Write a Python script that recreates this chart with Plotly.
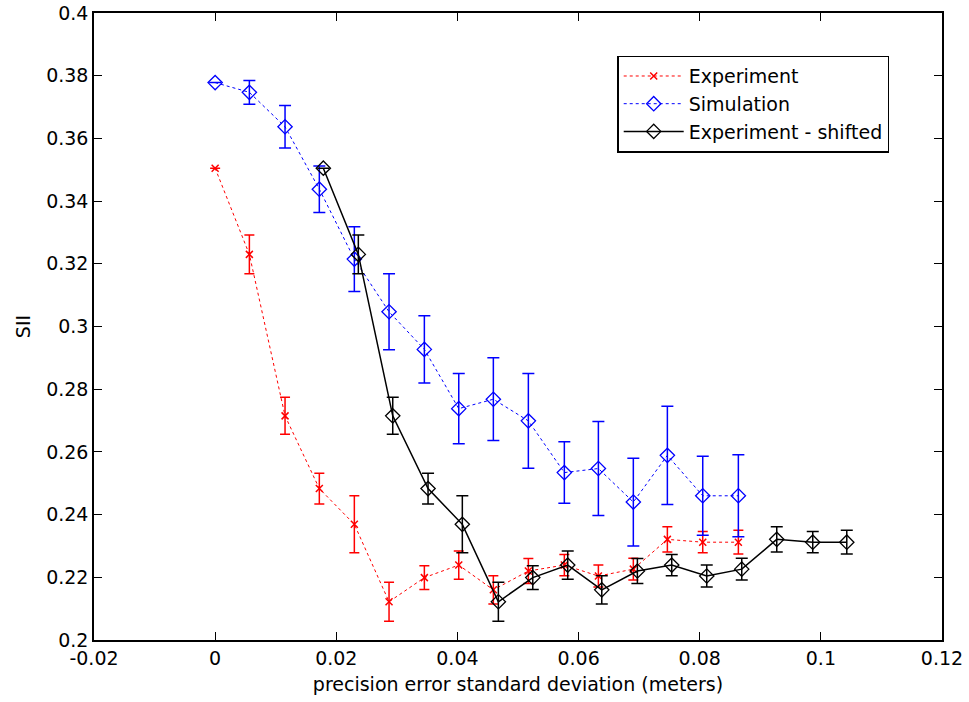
import plotly.graph_objects as go

# Experiment
exp_x = [0.0, 0.00565, 0.01154, 0.0172, 0.02298, 0.02871, 0.03454, 0.04022,
         0.04593, 0.05171, 0.05765, 0.06327, 0.06904, 0.07466, 0.0805, 0.08638]
exp_y = [0.3505, 0.3230, 0.2715, 0.2483, 0.2369, 0.2122, 0.2199, 0.2239,
         0.2160, 0.2220, 0.2239, 0.2204, 0.2226, 0.2321, 0.2312, 0.2312]
exp_err = [0.0, 0.0062, 0.0059, 0.0049, 0.0091, 0.0062, 0.0038, 0.0045,
           0.0045, 0.0040, 0.0034, 0.0035, 0.0035, 0.0040, 0.0034, 0.0038]

# Simulation
sim_x = exp_x
sim_y = [0.3778, 0.3747, 0.3637, 0.3438, 0.3215, 0.3047, 0.2927, 0.2738,
         0.2768, 0.2699, 0.2534, 0.2547, 0.2440, 0.2589, 0.2460, 0.2460]
sim_err = [0.0, 0.0038, 0.0068, 0.0074, 0.0103, 0.0121, 0.0107, 0.0112,
           0.0132, 0.0151, 0.0098, 0.0150, 0.0140, 0.0157, 0.0126, 0.0131]

# Experiment - shifted
shf_x = [0.01786, 0.02364, 0.02932, 0.03515, 0.04081, 0.04676, 0.05244, 0.05821,
         0.06383, 0.06971, 0.07538, 0.08116, 0.08694, 0.09272, 0.09866, 0.10428]
shf_y = exp_y
shf_err = exp_err

x_ticks = [-0.02, 0, 0.02, 0.04, 0.06, 0.08, 0.1, 0.12]
x_tick_labels = ["-0.02", "0", "0.02", "0.04", "0.06", "0.08", "0.1", "0.12"]
y_ticks = [0.2, 0.22, 0.24, 0.26, 0.28, 0.3, 0.32, 0.34, 0.36, 0.38, 0.4]
y_tick_labels = ["0.2", "0.22", "0.24", "0.26", "0.28", "0.3", "0.32", "0.34", "0.36", "0.38", "0.4"]

FONT = "DejaVu Sans, Liberation Sans, Arial, sans-serif"
FS = 19

fig = go.Figure()
fig.add_trace(go.Scatter(
    x=exp_x, y=exp_y, name="Experiment", mode="lines+markers",
    line=dict(color="#ff0000", width=1, dash="dot"),
    marker=dict(symbol="x-thin-open", size=7, color="#ff0000", line=dict(color="#ff0000", width=1.5)),
    error_y=dict(type="data", array=exp_err, visible=True, color="#ff0000", thickness=1.5, width=5),
))
fig.add_trace(go.Scatter(
    x=sim_x, y=sim_y, name="Simulation", mode="lines+markers",
    line=dict(color="#0000ff", width=1, dash="dot"),
    marker=dict(symbol="diamond-open", size=11, color="#0000ff", line=dict(color="#0000ff", width=1.3)),
    error_y=dict(type="data", array=sim_err, visible=True, color="#0000ff", thickness=1.5, width=6),
))
fig.add_trace(go.Scatter(
    x=shf_x, y=shf_y, name="Experiment - shifted", mode="lines+markers",
    line=dict(color="#000000", width=1.5),
    marker=dict(symbol="diamond-open", size=11, color="#000000", line=dict(color="#000000", width=1.3)),
    error_y=dict(type="data", array=shf_err, visible=True, color="#000000", thickness=1.5, width=6),
))

axis_common = dict(
    showgrid=False, zeroline=False, showline=True, linecolor="black", linewidth=1.5,
    mirror="ticks", ticks="inside", ticklen=8, tickwidth=1, tickcolor="black",
    tickfont=dict(family=FONT, size=FS, color="black"), automargin=False,
)
fig.update_xaxes(range=[-0.02, 0.12], tickvals=x_ticks, ticktext=x_tick_labels,
                 title=dict(text="precision error standard deviation (meters)",
                            font=dict(family=FONT, size=FS, color="black"), standoff=10),
                 **axis_common)
fig.update_yaxes(range=[0.2, 0.4], tickvals=y_ticks, ticktext=y_tick_labels,
                 title=dict(text="SII", font=dict(family=FONT, size=FS, color="black"), standoff=10),
                 **axis_common)

fig.update_layout(
    width=969, height=702,
    margin=dict(l=94, r=27, t=13, b=62),
    paper_bgcolor="white", plot_bgcolor="white",
    font=dict(family=FONT, size=FS, color="black"),
    legend=dict(x=0.617, y=0.932, xanchor="left", yanchor="top",
                bordercolor="black", borderwidth=1.5, bgcolor="white",
                font=dict(family=FONT, size=FS, color="black"),
                tracegroupgap=0, itemwidth=60),
    showlegend=True,
)

fig.write_html("out.html")
